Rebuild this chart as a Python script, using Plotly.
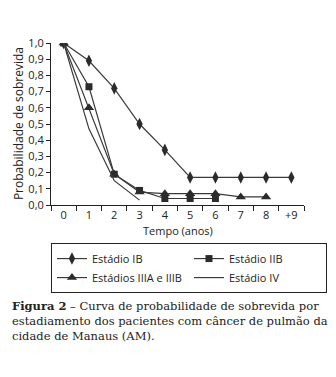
import plotly.graph_objects as go

# Survival probability by year of follow-up, per staging group
years = ["0", "1", "2", "3", "4", "5", "6", "7", "8", "+9"]
stage_ib = [1.0, 0.89, 0.72, 0.50, 0.34, 0.17, 0.17, 0.17, 0.17, 0.17]
stage_iib = [1.0, 0.73, 0.19, 0.09, 0.04, 0.04, 0.04]
stage_iii = [1.0, 0.60, 0.19, 0.08, 0.07, 0.07, 0.07, 0.05, 0.05]
stage_iv = [1.0, 0.47, 0.15, 0.03]

y_ticks = [i / 10 for i in range(11)]
y_labels = [f"{v:.1f}".replace(".", ",") for v in y_ticks]

FONT = "Open Sans"
LINE = "#3a3a3a"
MARK = "#2b2b2b"

fig = go.Figure()
series = [
    ("Estádio IB", stage_ib, "diamond-tall", 9),
    ("Estádio IIB", stage_iib, "square", 7),
    ("Estádios IIIA e IIIB", stage_iii, "triangle-up", 9),
    ("Estádio IV", stage_iv, None, 0),
]
for name, vals, sym, size in series:
    kw = dict(mode="lines")
    if sym:
        kw = dict(mode="lines+markers",
                  marker=dict(symbol=sym, size=size, color=MARK))
    fig.add_trace(go.Scatter(
        x=years[:len(vals)], y=vals, name=name,
        line=dict(color=LINE, width=1.2), **kw))

fig.update_layout(
    width=336, height=377,
    margin=dict(l=51, r=32, t=43, b=172),
    paper_bgcolor="white", plot_bgcolor="white",
    font=dict(family=FONT, size=11, color="#222"),
    showlegend=True,
    legend=dict(
        orientation="h", x=-0.0001, y=-0.235, xanchor="left", yanchor="top",
        bordercolor="#222", borderwidth=1, entrywidth=92,
        font=dict(size=11), tracegroupgap=0,
    ),
)
fig.update_xaxes(
    type="category", categoryorder="array", categoryarray=years,
    range=[-0.5, 9.5], showgrid=False, zeroline=False,
    showline=True, linecolor="#222", linewidth=1,
    ticks="outside", tickson="boundaries", ticklen=5, tickcolor="#222",
    tickfont=dict(size=11),
)
fig.update_yaxes(
    range=[0, 1.0], tickvals=y_ticks, ticktext=y_labels,
    showgrid=False, zeroline=False,
    showline=True, linecolor="#222", linewidth=1,
    ticks="outside", ticklen=4, tickcolor="#222",
    tickfont=dict(size=11),
)

fig.add_annotation(text="Tempo (anos)", xref="paper", yref="paper",
                   x=0.5, y=-0.16, xanchor="center", yanchor="middle",
                   showarrow=False, font=dict(size=11))
fig.add_annotation(text="Probabilidade de sobrevida", xref="paper", yref="paper",
                   x=-0.13, y=0.5, xanchor="center", yanchor="middle",
                   textangle=-90, showarrow=False, font=dict(size=12))
fig.add_annotation(
    text=("<b>Figura 2</b> – Curva de probabilidade de sobrevida por<br>"
          "estadiamento dos pacientes com câncer de pulmão da<br>"
          "cidade de Manaus (AM)."),
    xref="paper", yref="paper", x=-0.162, y=-0.57,
    xanchor="left", yanchor="top", align="left", showarrow=False,
    font=dict(family="DejaVu Serif", size=11.5, color="#222"),
)

fig.write_html("out.html")
